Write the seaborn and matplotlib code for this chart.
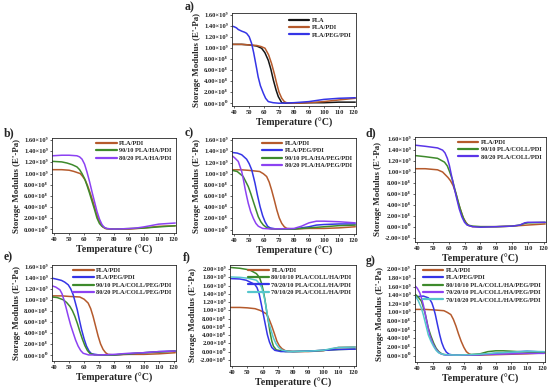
import numpy as np
import pandas as pd
import matplotlib
matplotlib.use("Agg")
import matplotlib.pyplot as plt
import seaborn as sns
from matplotlib.ticker import FuncFormatter

# storage modulus values in units of 1e9 Pa

# a)
a_pla_T = [38.7, 45, 50, 55, 58.3, 60.5, 62.8, 64.5, 66.2, 68, 69.5, 71.8, 75, 80, 90, 100, 110, 121]
a_pla = [1.07, 1.07, 1.06, 1.04, 1.00, 0.92, 0.78, 0.62, 0.42, 0.24, 0.12, 0.01, 0.0, 0.0, 0.01, 0.01, 0.02, 0.02]
a_pdi_T = [38.7, 45, 50, 55, 58, 60.6, 63, 65, 66.8, 68.4, 70, 71.8, 73.5, 75, 80, 90, 100, 110, 121]
a_pdi = [1.07, 1.07, 1.06, 1.05, 1.03, 1.00, 0.88, 0.72, 0.54, 0.36, 0.2, 0.09, 0.03, 0.01, 0.0, 0.01, 0.03, 0.06, 0.09]
a_peg_T = [38.7, 40, 41.5, 42.7, 45, 47, 48.3, 50, 51.6, 53, 53.9, 55, 56, 57.5, 59.5, 61, 62.8, 66, 70, 80, 90, 95, 100, 110, 121]
a_peg = [1.40, 1.39, 1.37, 1.34, 1.31, 1.29, 1.27, 1.21, 1.09, 0.92, 0.79, 0.63, 0.48, 0.32, 0.18, 0.09, 0.03, 0.01, 0.0, 0.01, 0.03, 0.05, 0.07, 0.09, 0.10]

# b)
b_pdi_T = [38.7, 45, 50, 53, 57.4, 59, 60.8, 62.5, 64.2, 66, 67.5, 69, 70.9, 72.5, 74.2, 78, 90, 100, 110, 121]
b_pdi = [1.07, 1.07, 1.06, 1.04, 1.00, 0.95, 0.88, 0.77, 0.64, 0.49, 0.35, 0.22, 0.11, 0.04, 0.01, 0.0, 0.0, 0.02, 0.05, 0.06]
b_ha10_T = [38.7, 45, 48.5, 52, 55.2, 57, 58.6, 60.3, 61.9, 63.6, 65.3, 67, 68.6, 70.3, 72, 75, 80, 90, 100, 110, 121]
b_ha10 = [1.22, 1.21, 1.19, 1.16, 1.12, 1.07, 1.00, 0.91, 0.79, 0.65, 0.50, 0.35, 0.20, 0.10, 0.05, 0.01, 0.0, 0.01, 0.02, 0.04, 0.06]
b_ha20_T = [38.7, 45, 50, 55.2, 57, 58.6, 60.3, 61.9, 63.6, 65.3, 67, 68.6, 70.3, 72, 73.6, 75.3, 80, 90, 95, 100, 110, 121]
b_ha20 = [1.32, 1.33, 1.33, 1.32, 1.30, 1.26, 1.17, 1.03, 0.86, 0.67, 0.49, 0.32, 0.18, 0.08, 0.03, 0.01, 0.0, 0.01, 0.02, 0.04, 0.09, 0.11]

# c)
c_pdi_T = [38.7, 45, 50, 57, 59.5, 61.7, 63.4, 65, 66.8, 68.5, 70.1, 71.8, 73.5, 75.2, 80, 90, 100, 110, 121]
c_pdi = [1.07, 1.07, 1.06, 1.04, 1.00, 0.95, 0.85, 0.71, 0.53, 0.35, 0.21, 0.11, 0.05, 0.02, 0.01, 0.02, 0.02, 0.03, 0.05]
c_peg_T = [38.7, 42, 45, 48.3, 50, 51.7, 53, 53.9, 55.5, 57.3, 59, 60.6, 62.3, 64, 68, 80, 90, 95, 100, 110, 121]
c_peg = [1.38, 1.37, 1.34, 1.26, 1.18, 1.07, 0.93, 0.83, 0.62, 0.41, 0.25, 0.14, 0.06, 0.03, 0.01, 0.01, 0.05, 0.08, 0.09, 0.10, 0.10]
c_ha10_T = [38.7, 42, 46, 49.4, 51, 52.8, 54.5, 56.1, 57.8, 59.5, 62, 65, 80, 90, 100, 110, 121]
c_ha10 = [1.06, 1.04, 0.95, 0.77, 0.65, 0.50, 0.36, 0.23, 0.14, 0.08, 0.03, 0.01, 0.01, 0.03, 0.05, 0.07, 0.08]
c_ha20_T = [38.7, 40.5, 42.7, 45, 46.1, 47.2, 48.3, 49.4, 51, 52.8, 54.5, 56.1, 59, 65, 80, 85, 90, 95, 100, 110, 121]
c_ha20 = [1.32, 1.28, 1.22, 1.04, 0.90, 0.74, 0.60, 0.47, 0.32, 0.20, 0.11, 0.06, 0.02, 0.01, 0.02, 0.06, 0.12, 0.15, 0.15, 0.14, 0.12]

# d)
d_pdi_T = [38.7, 45, 52.8, 56, 59.4, 61, 62.7, 64.4, 66, 67.7, 69.3, 71, 72.6, 75, 80, 90, 100, 110, 121]
d_pdi = [1.06, 1.06, 1.04, 1.00, 0.90, 0.84, 0.75, 0.61, 0.43, 0.28, 0.15, 0.07, 0.02, 0.0, 0.0, 0.0, 0.01, 0.03, 0.05]
d_coll10_T = [38.7, 45, 52.8, 57.2, 59, 60.5, 62.2, 63.8, 65.4, 67, 68.7, 70.4, 72, 75, 80, 90, 100, 105, 108, 110, 121]
d_coll10 = [1.30, 1.28, 1.25, 1.18, 1.11, 1.00, 0.86, 0.68, 0.51, 0.34, 0.19, 0.08, 0.03, 0.01, 0.0, 0.0, 0.01, 0.03, 0.06, 0.07, 0.08]
d_coll20_T = [38.7, 45, 52.8, 56, 57.5, 59, 60.3, 61.6, 63.2, 64.9, 66.5, 68.2, 69.9, 71.5, 75, 80, 90, 100, 105, 108, 110, 121]
d_coll20 = [1.49, 1.47, 1.44, 1.40, 1.35, 1.25, 1.12, 0.94, 0.73, 0.52, 0.33, 0.18, 0.08, 0.03, 0.0, -0.01, 0.0, 0.01, 0.03, 0.07, 0.08, 0.08]

# e)
e_pdi_T = [38.7, 45, 50, 57.1, 60, 62.7, 64.4, 66, 67.7, 69.4, 71, 72.7, 74.4, 76, 80, 90, 100, 110, 121]
e_pdi = [1.08, 1.08, 1.07, 1.06, 1.02, 0.95, 0.85, 0.71, 0.53, 0.35, 0.21, 0.11, 0.05, 0.02, 0.01, 0.02, 0.02, 0.03, 0.05]
e_peg_T = [38.7, 42, 44.9, 47, 49.4, 51, 52.7, 54, 55.4, 56.8, 58.3, 60, 61.6, 63.3, 65, 70, 80, 90, 100, 110, 121]
e_peg = [1.40, 1.38, 1.36, 1.33, 1.28, 1.21, 1.10, 0.97, 0.83, 0.65, 0.47, 0.30, 0.17, 0.08, 0.03, 0.01, 0.01, 0.03, 0.05, 0.07, 0.08]
e_coll10_T = [38.7, 42, 46, 48.3, 50.5, 52.2, 53.8, 55.5, 57.1, 58.8, 60.5, 62.2, 63.8, 67, 80, 90, 100, 110, 121]
e_coll10 = [1.06, 1.05, 1.01, 0.96, 0.89, 0.81, 0.71, 0.58, 0.44, 0.30, 0.18, 0.09, 0.04, 0.01, 0.01, 0.03, 0.05, 0.06, 0.08]
e_coll20_T = [38.7, 41, 43.8, 45.2, 46.5, 48, 49.4, 51, 52.7, 54.3, 56, 57.7, 59.4, 63, 70, 80, 90, 100, 110, 121]
e_coll20 = [1.26, 1.24, 1.19, 1.12, 1.01, 0.86, 0.71, 0.55, 0.41, 0.28, 0.17, 0.09, 0.04, 0.01, 0.01, 0.02, 0.04, 0.05, 0.07, 0.08]

# f)
f_pdi_T = [38.7, 45, 50, 55, 58.2, 60.4, 62.6, 64.3, 66, 67.7, 69.4, 71, 72.7, 75, 80, 90, 100, 105, 110, 121]
f_pdi = [1.07, 1.07, 1.06, 1.04, 1.00, 0.96, 0.91, 0.78, 0.62, 0.44, 0.25, 0.14, 0.07, 0.02, 0.0, 0.0, 0.02, 0.06, 0.10, 0.11]
f_801010_T = [38.7, 45, 51.4, 55.9, 57, 58.2, 59.3, 60.4, 61.5, 62.6, 63.8, 64.9, 66, 67.1, 69, 75, 80, 90, 100, 110, 121]
f_801010 = [2.04, 2.02, 1.98, 1.89, 1.84, 1.77, 1.65, 1.48, 1.26, 0.99, 0.72, 0.46, 0.26, 0.13, 0.04, 0.0, 0.0, 0.01, 0.03, 0.05, 0.06]
f_702010_T = [38.7, 45, 49.2, 54.8, 56.3, 57.7, 59, 60.4, 61.8, 63.1, 64.5, 66, 68, 72, 80, 90, 100, 110, 121]
f_702010 = [1.77, 1.76, 1.73, 1.63, 1.55, 1.40, 1.17, 0.91, 0.65, 0.41, 0.23, 0.10, 0.03, 0.0, 0.0, 0.01, 0.03, 0.05, 0.06]
f_701020_T = [38.7, 45, 50, 55.9, 57.6, 59.3, 60.4, 61.5, 62.6, 63.8, 65.5, 67.1, 68.8, 70.5, 73, 78, 90, 100, 105, 110, 121]
f_701020 = [1.81, 1.80, 1.78, 1.73, 1.66, 1.56, 1.42, 1.24, 1.00, 0.74, 0.52, 0.33, 0.19, 0.10, 0.03, 0.0, 0.01, 0.03, 0.07, 0.10, 0.11]

# g)
g_pdi_T = [38.7, 45, 50, 57, 59.2, 61.4, 63, 64.7, 66.3, 68, 69.7, 71.3, 73, 75, 80, 90, 100, 110, 121]
g_pdi = [1.07, 1.07, 1.06, 1.04, 1.00, 0.95, 0.84, 0.68, 0.50, 0.33, 0.19, 0.09, 0.04, 0.01, 0.01, 0.02, 0.03, 0.04, 0.06]
g_peg_T = [38.7, 41, 43.8, 47, 48.2, 49.3, 50.4, 51.5, 52.9, 54.3, 55.6, 57, 58.5, 60.3, 63, 70, 80, 90, 100, 110, 121]
g_peg = [1.35, 1.37, 1.38, 1.34, 1.29, 1.22, 1.10, 0.95, 0.71, 0.48, 0.30, 0.17, 0.08, 0.03, 0.01, 0.01, 0.02, 0.05, 0.08, 0.10, 0.08]
g_801010_T = [38.7, 40.5, 42.6, 44.9, 46, 47, 48.7, 50.4, 52, 53.7, 56, 60, 70, 80, 85, 90, 95, 100, 110, 121]
g_801010 = [1.42, 1.36, 1.26, 0.99, 0.81, 0.64, 0.45, 0.29, 0.17, 0.09, 0.03, 0.01, 0.01, 0.04, 0.09, 0.11, 0.11, 0.10, 0.08, 0.07]
g_702010_T = [38.7, 40, 41.5, 42.7, 43.8, 45, 46, 47.1, 48.2, 49.9, 51.5, 53.2, 55, 58, 70, 80, 90, 100, 110, 121]
g_702010 = [1.61, 1.56, 1.46, 1.33, 1.18, 0.98, 0.79, 0.60, 0.44, 0.28, 0.17, 0.09, 0.04, 0.01, 0.01, 0.02, 0.03, 0.04, 0.05, 0.05]
g_701020_T = [38.7, 40.5, 42.6, 43.8, 44.9, 46, 47, 48.7, 50.4, 52, 53.7, 57, 65, 80, 90, 100, 110, 121]
g_701020 = [1.38, 1.28, 1.10, 0.95, 0.79, 0.63, 0.48, 0.33, 0.21, 0.12, 0.06, 0.02, 0.01, 0.03, 0.06, 0.08, 0.10, 0.09]

BLACK = "#151515"
BROWN = "#b55a2c"
BLUE = "#3535e6"
GREEN = "#3e8a2c"
PURPLE = "#8c42f2"
CYAN = "#55c6cc"
SERIF = ["Liberation Serif", "DejaVu Serif"]

sns.set_style("ticks")
plt.rcParams["font.family"] = SERIF
plt.rcParams["font.weight"] = "bold"

SUP = str.maketrans("0123456789-", "⁰¹²³⁴⁵⁶⁷⁸⁹⁻")


def sci(v, pos):
    if abs(v) < 1e-6:
        return "0.00×10⁰"
    val = v * 1e9
    e = int(np.floor(np.log10(abs(val)) + 1e-9))
    m = val / 10 ** e
    return f"{m:.2f}×10" + str(e).translate(SUP)


def panel(rect, tag, tagpos, curves, ylim, yticks, legend_loc=(1.0, 1.02)):
    ax = fig.add_axes(rect)
    for T, v, c, lab in curves:
        df = pd.DataFrame({"T": T, "E": v})
        sns.lineplot(data=df, x="T", y="E", ax=ax, color=c, label=lab,
                     lw=1.1, sort=False, estimator=None)
    ax.set_xlim(38.5, 121.5)
    ax.set_ylim(*ylim)
    ax.set_xticks(range(40, 121, 10))
    ax.set_yticks(yticks)
    ax.yaxis.set_major_formatter(FuncFormatter(sci))
    ax.tick_params(labelsize=4.7, length=1.5, width=0.5, pad=1.5)
    for lab in ax.get_xticklabels() + ax.get_yticklabels():
        lab.set_fontweight("bold")
    for s in ax.spines.values():
        s.set_linewidth(0.6)
        s.set_visible(True)
    ax.set_xlabel("Temperature (°C)", fontsize=7.2, fontweight="bold", labelpad=2)
    ax.set_ylabel("Storage Modulus (E'-Pa)", fontsize=6.4, fontweight="bold", labelpad=2)
    leg = ax.legend(loc="upper right", bbox_to_anchor=legend_loc, frameon=False,
                    prop={"size": 4.6, "weight": "bold", "family": SERIF},
                    handlelength=3.2, handletextpad=0.4, labelspacing=0.3,
                    borderaxespad=0.3)
    for h in leg.get_lines():
        h.set_linewidth(1.6)
    fig.text(tagpos[0], tagpos[1], tag, fontsize=8.5, fontweight="bold", va="center")
    return ax


fig = plt.figure(figsize=(5.5, 3.87), dpi=100)

tk16 = np.arange(0, 1.61, 0.2)
tk16n = np.arange(-0.2, 1.61, 0.2)
tk20 = np.arange(0, 2.01, 0.2)
tk20n = np.arange(-0.2, 2.01, 0.2)

panel([0.4218, 0.7261, 0.2255, 0.2403], "a)", (0.335, 0.982),
      [(a_pla_T, a_pla, BLACK, "PLA"),
       (a_pdi_T, a_pdi, BROWN, "PLA/PDI"),
       (a_peg_T, a_peg, BLUE, "PLA/PEG/PDI")],
      (-0.05, 1.64), tk16, legend_loc=(1.0, 1.0))

panel([0.0945, 0.3979, 0.2255, 0.2455], "b)", (0.006, 0.656),
      [(b_pdi_T, b_pdi, BROWN, "PLA/PDI"),
       (b_ha10_T, b_ha10, GREEN, "90/10 PLA/HA/PDI"),
       (b_ha20_T, b_ha20, PURPLE, "80/20 PLA/HA/PDI")],
      (-0.07, 1.64), tk16)

panel([0.4218, 0.3953, 0.2255, 0.2481], "c)", (0.335, 0.656),
      [(c_pdi_T, c_pdi, BROWN, "PLA/PDI"),
       (c_peg_T, c_peg, BLUE, "PLA/PEG/PDI"),
       (c_ha10_T, c_ha10, GREEN, "90/10 PLA/HA/PEG/PDI"),
       (c_ha20_T, c_ha20, PURPLE, "80/20 PLA/HA/PEG/PDI")],
      (-0.08, 1.64), tk16)

panel([0.7545, 0.3747, 0.2382, 0.2713], "d)", (0.665, 0.656),
      [(d_pdi_T, d_pdi, BROWN, "PLA/PDI"),
       (d_coll10_T, d_coll10, GREEN, "90/10 PLA/COLL/PDI"),
       (d_coll20_T, d_coll20, "#5a35e8", "80/20 PLA/COLL/PDI")],
      (-0.28, 1.64), tk16n)

panel([0.0945, 0.0672, 0.2255, 0.2481], "e)", (0.006, 0.334),
      [(e_pdi_T, e_pdi, BROWN, "PLA/PDI"),
       (e_peg_T, e_peg, BLUE, "PLA/PEG/PDI"),
       (e_coll10_T, e_coll10, GREEN, "90/10 PLA/COLL/PEG/PDI"),
       (e_coll20_T, e_coll20, PURPLE, "80/20 PLA/COLL/PEG/PDI")],
      (-0.1, 1.64), tk16)

panel([0.4182, 0.0543, 0.2291, 0.261], "f)", (0.333, 0.334),
      [(f_pdi_T, f_pdi, BROWN, "PLA/PDI"),
       (f_801010_T, f_801010, GREEN, "80/10/10 PLA/COLL/HA/PDI"),
       (f_702010_T, f_702010, BLUE, "70/20/10 PLA/COLL/HA/PDI"),
       (f_701020_T, f_701020, CYAN, "70/10/20 PLA/COLL/HA/PDI")],
      (-0.35, 2.1), tk20n)

panel([0.7545, 0.0646, 0.2364, 0.2506], "g)", (0.665, 0.325),
      [(g_pdi_T, g_pdi, BROWN, "PLA/PDI"),
       (g_peg_T, g_peg, BLUE, "PLA/PEG/PDI"),
       (g_801010_T, g_801010, GREEN, "80/10/10 PLA/COLL/HA/PEG/PDI"),
       (g_702010_T, g_702010, PURPLE, "70/20/10 PLA/COLL/HA/PEG/PDI"),
       (g_701020_T, g_701020, CYAN, "70/10/20 PLA/COLL/HA/PEG/PDI")],
      (-0.15, 2.1), tk20)

fig.savefig("out.png", dpi=100)
